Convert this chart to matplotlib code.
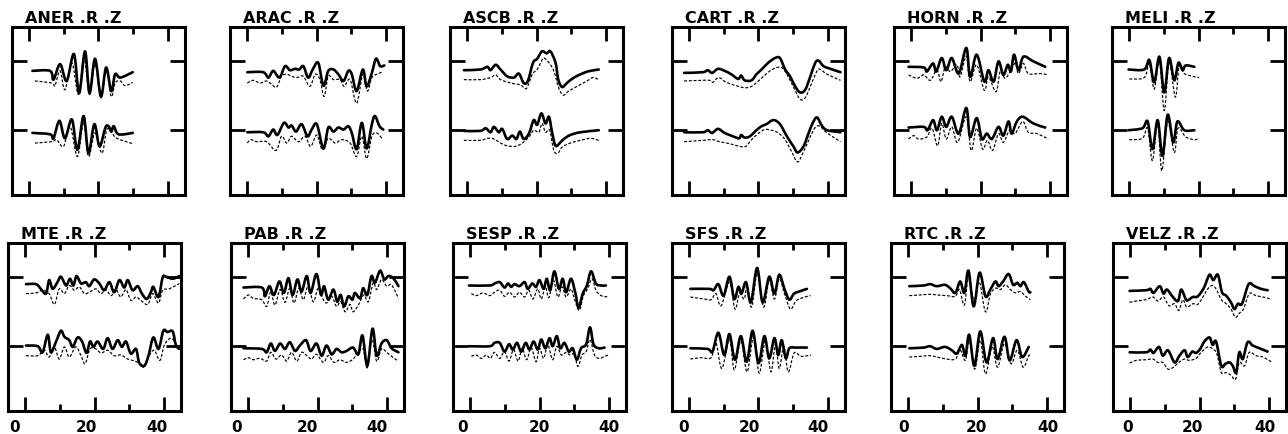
import numpy as np
import matplotlib
matplotlib.use("Agg")
import matplotlib.pyplot as plt
from matplotlib.ticker import FixedLocator
from matplotlib.path import Path
from matplotlib.patches import PathPatch
from matplotlib.transforms import ScaledTranslation

plt.rcParams['font.family'] = ['DejaVu Sans']

# ---------------- data: (time s, amplitude) ----------------
stations = ["ANER", "ARAC", "ASCB", "CART", "HORN", "MELI",
            "MTE", "PAB", "SESP", "SFS", "RTC", "VELZ"]
titles = [s + " .R .Z" for s in stations]
xticks_major = [0, 20, 40]
xticks_minor = [10, 30]
xtick_labels = ["0", "20", "40"]

ANER_up_obs = [(0.9,-15),(6.0,-15),(7.0,-28),(8.9,-5),(10.8,-30),(12.9,10),(14.4,-48),(16.1,14),(17.4,-48),(19.0,3),(20.7,-53),(22.2,-10),(23.7,-45),(24.8,-20),(26.3,-25),(29.9,-17)]
ANER_up_syn = [(1.6,-30),(6.5,-33),(7.4,-37),(8.9,-15),(10.3,-43),(12.3,-3),(14.2,-50),(15.8,5),(17.4,-50),(19.0,-5),(20.7,-55),(22.2,-15),(23.7,-53),(24.8,-33),(26.3,-30),(27.7,-37),(29.9,-32)]
ANER_lo_obs = [(0.9,-4),(6.0,-6),(7.0,-12),(8.7,14),(10.3,-12),(12.3,16),(13.9,-29),(15.7,21),(17.1,-34),(18.8,9),(20.3,-24),(22.0,4),(22.9,6),(23.7,-2),(24.4,6),(25.8,-6),(29.9,-4)]
ANER_lo_syn = [(1.6,-19),(6.5,-17),(7.9,-14),(9.9,-24),(11.8,6),(13.9,-39),(15.7,11),(17.1,-39),(19.0,-4),(21.0,-34),(22.4,1),(23.9,-4),(25.3,-12),(29.9,-20)]

ARAC_up_obs = [(0,-17),(4.6,-17),(6.1,-25),(7.5,-15),(9.3,-25),(10.9,-8),(12.3,-14),(13.8,-12),(15.0,-13),(16.2,-8),(17.6,-25),(18.9,-13),(20.5,-3),(22.0,-37),(23.4,-15),(24.9,-13),(26.3,-20),(27.8,-30),(29.2,-15),(30.2,-20),(31.6,-45),(33.4,-13),(34.5,-38),(36.0,-18),(37.2,3),(38.4,-8),(39.6,-7)]
ARAC_up_syn = [(0,-33),(1.7,-29),(3.7,-33),(5.6,-30),(7.0,-35),(8.5,-39),(9.9,-23),(11.4,-20),(12.8,-23),(14.3,-25),(16.2,-23),(18.1,-38),(19.6,-20),(21.0,-28),(22.2,-53),(23.4,-23),(24.9,-28),(26.8,-28),(28.0,-38),(29.7,-28),(31.6,-63),(33.4,-20),(34.7,-45),(36.0,-25),(37.4,-20),(38.9,-17)]
ARAC_lo_obs = [(0,-3),(4.6,-3),(6.1,-9),(7.5,1),(8.7,-7),(10.6,11),(11.9,4),(12.8,7),(14.1,-2),(15.7,9),(17.4,-9),(18.6,1),(20.1,9),(22.0,-27),(23.4,4),(24.9,-2),(26.3,4),(27.8,1),(29.2,6),(30.2,-4),(31.6,-28),(33.1,11),(34.5,-27),(36.0,9),(36.9,21),(38.2,6),(39.3,1)]
ARAC_lo_syn = [(0,-19),(1.0,-14),(2.7,-17),(5.6,-17),(8.3,-30),(9.9,-9),(11.4,-19),(12.8,-9),(14.8,-17),(16.7,-9),(18.3,-24),(20.1,-7),(21.7,-29),(23.4,-12),(25.4,-19),(27.3,-14),(29.7,-19),(31.6,-39),(33.1,-9),(34.5,-42),(36.0,-9),(37.4,-4),(38.9,-12)]

ASCB_up_obs = [(-1.0,-14),(3.8,-13),(5.8,-9),(6.7,-14),(8.2,-6),(9.6,-13),(11.5,-23),(13.5,-25),(14.9,-19),(16.3,-33),(17.5,-30),(19.0,-3),(20.2,3),(21.6,14),(22.9,11),(24.0,14),(25.5,-3),(26.3,-28),(27.4,-39),(28.8,-33),(30.8,-25),(33.7,-18),(35.6,-15),(38.0,-13)]
ASCB_up_syn = [(-1.0,-28),(3.8,-28),(6.7,-25),(8.2,-21),(9.6,-28),(12.5,-33),(15.4,-36),(17.1,-41),(18.8,-20),(20.2,-13),(21.2,-3),(22.1,4),(23.6,-3),(25.0,-15),(26.4,-40),(27.7,-51),(29.3,-45),(31.7,-38),(34.6,-30),(36.3,-25),(38.0,-28)]
ASCB_lo_obs = [(-1.0,-1),(3.8,-1),(5.3,3),(6.7,-3),(7.7,5),(9.1,-3),(10.1,2),(11.5,-13),(13.0,-8),(14.2,-13),(15.2,-2),(16.3,-13),(17.8,-5),(19.2,15),(20.2,8),(21.4,25),(22.6,10),(23.6,20),(24.5,-3),(25.5,-23),(26.9,-18),(27.9,-13),(29.8,-7),(32.7,-3),(38.0,0)]
ASCB_lo_syn = [(-1.0,-15),(3.8,-15),(5.8,-12),(7.7,-13),(9.6,-19),(11.5,-23),(13.9,-24),(15.9,-19),(17.8,-10),(19.2,0),(20.7,-3),(21.6,10),(22.6,-3),(23.8,0),(25.0,-30),(26.2,-34),(27.4,-25),(29.8,-19),(32.7,-15),(35.6,-12),(38.0,-15)]

CART_up_obs = [(-1.5,-18),(3.9,-17),(5.3,-14),(6.6,-18),(8.3,-12),(10.2,-15),(12.1,-20),(14.1,-27),(15.0,-22),(16.0,-29),(18.0,-29),(19.4,-20),(20.9,-13),(22.8,-3),(24.8,4),(26.2,4),(27.7,-13),(29.1,-23),(30.6,-38),(32.0,-47),(33.5,-43),(35.0,-23),(36.4,-3),(37.4,0),(38.8,-8),(40.8,-12),(43.7,-17)]
CART_up_syn = [(-1.5,-30),(3.9,-29),(5.8,-29),(6.8,-32),(8.5,-25),(10.7,-32),(13.6,-37),(16.0,-40),(18.0,-38),(20.4,-28),(22.8,-17),(24.8,-11),(26.7,-10),(28.2,-20),(30.1,-39),(32.0,-57),(33.5,-55),(35.0,-38),(36.9,-15),(37.9,-13),(39.8,-20),(43.7,-29)]
CART_lo_obs = [(-1.5,-3),(3.9,-3),(5.3,0),(6.6,-4),(8.3,2),(10.2,-4),(12.6,-9),(14.4,-12),(15.0,-7),(16.0,-11),(17.5,-9),(19.4,0),(20.9,6),(22.3,9),(24.3,15),(26.2,9),(28.2,-9),(30.1,-24),(31.3,-33),(33.0,-24),(34.5,-4),(35.7,11),(36.9,19),(38.3,7),(39.8,0),(43.7,-3)]
CART_lo_syn = [(-1.5,-17),(3.9,-15),(6.8,-14),(8.7,-17),(11.7,-20),(14.6,-24),(16.3,-24),(18.0,-14),(19.9,-5),(21.8,1),(23.8,0),(25.7,-4),(27.7,-14),(29.6,-32),(31.3,-47),(33.0,-32),(35.0,-9),(36.4,4),(37.7,6),(39.8,-4),(43.7,-17)]

HORN_up_obs = [(-0.8,-9),(3.6,-10),(4.5,-16),(6.3,-4),(7.2,-16),(8.8,4),(10.1,-14),(11.7,4),(13.7,-19),(15.9,19),(17.0,-24),(18.9,9),(21.1,-31),(22.3,-14),(23.8,-31),(25.2,-1),(26.6,-21),(27.9,-6),(28.8,-16),(29.7,9),(31.0,-14),(32.4,6),(35.3,-1),(38.7,-9)]
HORN_up_syn = [(-0.8,-21),(1.6,-26),(3.6,-21),(5.5,-29),(7.4,-14),(8.6,-31),(9.8,-9),(11.3,-16),(13.2,-6),(14.1,-24),(15.9,7),(17.0,-31),(18.9,-6),(21.1,-44),(22.3,-24),(24.5,-46),(25.7,-16),(27.1,-26),(28.6,-16),(30.0,-4),(31.0,-19),(32.4,-4),(33.8,-19),(37.2,-19),(39.6,-21)]
HORN_lo_obs = [(-0.8,4),(3.6,5),(4.7,0),(6.3,15),(7.4,0),(8.8,20),(10.1,5),(11.7,20),(13.7,-5),(15.9,33),(17.0,-10),(18.9,18),(20.4,-13),(21.8,-5),(23.3,-13),(25.2,5),(26.6,-8),(28.1,13),(29.0,-5),(30.5,13),(32.2,20),(35.3,10),(38.7,4)]
HORN_lo_syn = [(-0.8,-13),(0.7,-8),(2.1,-13),(4.5,-10),(6.0,3),(7.6,-23),(8.8,10),(10.1,-13),(11.7,5),(13.4,-18),(15.9,20),(17.3,-30),(18.9,3),(20.6,-28),(22.0,-15),(23.5,-30),(25.2,-5),(26.6,-18),(28.4,0),(30.0,-5),(32.2,13),(33.8,-3),(36.3,-5),(39.6,-13)]

MELI_up_obs = [(-0.2,-13),(4.3,-13),(5.8,1),(7.2,-32),(8.7,6),(10.1,-47),(11.5,4),(13.0,-29),(14.2,-3),(15.4,-14),(16.3,-7),(18.8,-9)]
MELI_up_syn = [(0,-27),(4.3,-25),(5.8,-4),(7.2,-42),(8.7,1),(10.1,-74),(11.5,-2),(13.3,-54),(14.4,-9),(15.9,-19),(18.3,-23),(20.2,-25)]
MELI_lo_obs = [(-0.2,0),(3.8,3),(5.3,13),(6.7,-28),(8.2,15),(9.6,-38),(11.1,23),(12.7,-18),(13.9,13),(15.9,0),(18.8,0)]
MELI_lo_syn = [(0,-14),(3.8,-12),(5.3,3),(6.7,-45),(8.2,10),(9.4,-60),(11.1,13),(13.0,-33),(14.1,3),(16.3,-10),(18.8,-14),(20.2,-12)]

MTE_up_obs = [(0.2,-11),(3.1,-11),(4.5,-18),(6.0,-25),(6.9,-5),(7.9,-18),(9.3,-8),(10.3,0),(11.8,-13),(12.9,-3),(13.9,-13),(14.8,1),(16.1,-10),(17.5,-8),(18.5,-14),(19.9,-4),(21.4,-10),(22.8,-20),(24.3,-8),(25.7,-23),(27.2,-5),(28.6,-16),(29.6,-5),(31.0,-20),(32.5,-14),(33.7,-25),(35.1,-33),(36.3,-23),(37.0,-15),(38.5,-30),(39.7,-1),(40.7,0),(42.6,-3),(44.5,1)]
MTE_up_syn = [(0.2,-25),(3.1,-24),(5.0,-20),(6.9,-25),(8.4,-41),(9.8,-18),(11.3,-25),(12.7,-13),(14.2,-20),(15.6,-15),(17.1,-25),(18.5,-23),(20.4,-18),(21.9,-25),(23.3,-19),(24.8,-28),(26.2,-19),(27.6,-30),(29.1,-19),(30.5,-35),(32.0,-30),(33.4,-35),(35.4,-41),(36.8,-25),(38.5,-39),(39.7,-20),(41.6,-18),(44.5,-10)]
MTE_lo_obs = [(0.2,1),(3.6,0),(5.0,-9),(6.5,17),(7.4,-9),(8.9,7),(10.3,23),(11.3,14),(12.7,9),(13.7,-1),(15.1,13),(16.4,7),(17.7,-10),(18.7,7),(19.7,-1),(20.9,7),(22.5,-4),(23.8,12),(25.2,-4),(26.7,9),(27.9,-1),(29.1,7),(30.5,-11),(32.0,-4),(32.9,-24),(34.4,-29),(35.6,-14),(37.0,13),(38.5,-4),(39.9,23),(41.1,21),(42.6,22),(43.5,2),(44.5,-4)]
MTE_lo_syn = [(0.2,-14),(3.6,-14),(5.5,-6),(6.9,-16),(8.4,-1),(9.8,-19),(11.3,-1),(12.7,-16),(14.6,-1),(16.1,-14),(17.3,-26),(18.7,-4),(20.4,-4),(21.9,-10),(23.8,-6),(25.7,-14),(27.6,-13),(29.6,-19),(31.0,-21),(32.5,-24),(34.1,-31),(35.8,-14),(37.3,-6),(38.9,-21),(40.2,2),(42.1,12),(43.5,4),(44.5,-6)]

PAB_up_obs = [(-1.4,-16),(3.9,-16),(4.8,-29),(6.1,-14),(7.4,-27),(9.0,-7),(10.3,-24),(11.6,-2),(12.8,-27),(14.2,-4),(15.4,-22),(16.9,1),(18.0,-24),(19.7,4),(21.0,-27),(21.9,-14),(23.1,-34),(24.6,-19),(25.7,-37),(26.7,-27),(27.7,-44),(28.9,-29),(30.1,-34),(30.8,-24),(32.3,-32),(33.2,-17),(34.4,-27),(35.6,1),(36.6,-9),(38.1,9),(39.3,-4),(40.5,1),(41.9,-2),(43.4,-14)]
PAB_up_syn = [(-1.4,-33),(0,-27),(1.4,-32),(3.9,-34),(5.3,-44),(6.5,-22),(7.7,-42),(9.2,-19),(10.6,-38),(12.0,-17),(13.2,-39),(14.6,-17),(15.9,-34),(17.3,-14),(18.8,-37),(20.2,-17),(21.5,-32),(22.6,-39),(24.1,-29),(25.5,-44),(26.7,-37),(28.0,-52),(29.4,-41),(30.3,-52),(31.8,-42),(33.4,-27),(34.7,-37),(36.1,-9),(37.1,-19),(38.5,-4),(40.0,-14),(41.4,-12),(43.4,-32)]
PAB_lo_obs = [(-1.4,-3),(3.9,-4),(5.3,-9),(6.5,4),(7.7,-7),(9.2,4),(10.6,-4),(12.0,6),(13.5,-7),(14.9,1),(16.7,9),(18.0,-7),(19.7,4),(21.2,-14),(22.6,1),(24.1,-12),(25.5,-4),(27.0,-9),(28.4,-7),(30.3,-2),(31.8,-12),(33.0,16),(34.4,-29),(35.9,26),(37.1,-14),(38.5,4),(40.0,9),(41.4,-3),(43.4,-9)]
PAB_lo_syn = [(-1.4,-20),(0,-17),(1.4,-20),(3.4,-18),(5.3,-22),(6.5,-9),(8.0,-19),(9.6,-13),(11.1,-22),(12.5,-9),(14.0,-22),(15.4,-9),(16.9,-14),(18.3,-19),(19.7,-12),(21.7,-24),(23.1,-14),(24.8,-24),(26.5,-20),(28.4,-24),(30.3,-19),(31.8,-9),(33.2,-4),(34.4,-32),(35.7,11),(37.1,-22),(38.5,-4),(40.0,-9),(41.9,-17),(43.4,-22)]

SESP_up_obs = [(-0.4,-13),(5.6,-13),(7.0,-10),(8.5,-8),(9.9,-16),(10.9,-10),(11.8,-15),(12.8,-11),(14.2,-14),(15.7,-8),(16.6,-18),(17.9,-10),(19.0,-15),(20.0,-5),(21.2,-18),(22.1,-3),(23.1,-20),(24.3,8),(25.6,-18),(26.7,-3),(27.7,-23),(29.1,-3),(30.4,-25),(31.3,-46),(32.5,-25),(33.7,-13),(34.9,8),(36.3,-10),(37.8,-13),(39.2,-13)]
SESP_up_syn = [(0.3,-25),(1.7,-28),(3.7,-24),(5.6,-28),(7.0,-23),(8.5,-20),(9.9,-29),(11.3,-23),(12.8,-30),(14.2,-23),(15.7,-30),(16.9,-20),(18.1,-33),(19.5,-18),(20.5,-33),(21.7,-15),(22.7,-31),(24.0,-5),(25.3,-30),(26.5,-15),(27.7,-30),(29.1,-18),(30.1,-33),(31.5,-50),(32.7,-28),(33.9,-18),(35.2,-3),(36.3,-20),(37.8,-28),(39.7,-30)]
SESP_lo_obs = [(-0.4,0),(5.6,0),(7.0,5),(8.5,5),(9.9,-8),(11.2,3),(12.3,-5),(13.5,5),(14.7,-8),(16.0,5),(17.1,-5),(18.3,7),(19.5,-5),(20.5,10),(21.7,-3),(22.9,12),(23.8,0),(25.0,15),(26.0,-3),(27.2,5),(28.5,-8),(29.6,-3),(30.8,-20),(32.0,-3),(33.5,3),(34.6,28),(35.6,3),(37.1,-3),(38.8,-2)]
SESP_lo_syn = [(0.3,-15),(1.7,-13),(3.2,-18),(4.6,-13),(5.8,-18),(7.0,-9),(8.5,-18),(9.9,-8),(11.2,-22),(12.5,-5),(13.8,-22),(15.0,-3),(16.3,-20),(17.6,-2),(19.0,-23),(20.0,-3),(21.2,-18),(22.4,2),(23.8,-20),(25.0,0),(26.3,-13),(27.7,-9),(28.8,-13),(30.1,-12),(31.1,-30),(32.3,-13),(33.5,-8),(34.6,10),(35.9,-13),(37.3,-18),(38.8,-15),(40.0,-13)]

SFS_up_obs = [(0.3,-18),(5.8,-18),(7.0,-20),(8.4,-11),(9.9,-28),(11.6,0),(13.0,-33),(14.2,-15),(15.1,-25),(16.4,-8),(17.8,-38),(19.6,13),(21.2,-38),(23.1,0),(24.6,-25),(26.0,3),(27.5,-18),(28.9,-34),(30.3,-25),(32.3,-21),(34.0,-18)]
SFS_up_syn = [(0.3,-30),(4.3,-33),(6.3,-34),(7.7,-25),(9.2,-43),(11.6,-8),(13.2,-48),(14.5,-25),(15.9,-33),(16.7,-13),(18.0,-45),(19.7,5),(21.5,-45),(23.1,-5),(24.6,-33),(26.0,-3),(27.5,-25),(29.2,-48),(30.8,-36),(32.8,-31),(35.0,-28)]
SFS_lo_obs = [(0.3,-3),(5.3,-4),(6.7,-8),(8.4,20),(10.1,-13),(11.6,18),(13.2,-20),(14.9,15),(16.6,-23),(18.3,23),(20.0,-25),(21.7,15),(23.1,-18),(24.6,12),(25.7,-13),(26.7,9),(27.9,-18),(28.9,-3),(30.8,-2),(34.0,-2)]
SFS_lo_syn = [(0.3,-19),(3.4,-17),(6.3,-17),(7.7,5),(9.4,-33),(11.6,10),(13.0,-35),(14.9,8),(16.7,-38),(18.6,15),(20.2,-40),(22.0,8),(23.6,-38),(24.9,3),(26.0,-33),(27.3,0),(28.6,-38),(30.3,-10),(32.3,-15),(35.2,-13)]

RTC_up_obs = [(0.3,-14),(4.4,-13),(6.3,-11),(8.2,-14),(10.6,-12),(12.1,-17),(13.6,-24),(15.0,-7),(16.2,-24),(17.4,9),(18.9,-44),(20.6,6),(22.3,-29),(23.7,-19),(25.2,-7),(26.1,-14),(27.4,-7),(29.0,4),(30.3,-12),(31.5,-9),(32.4,-14),(33.4,-8),(34.8,-22),(35.3,-23)]
RTC_up_syn = [(0.3,-28),(3.4,-27),(6.3,-26),(8.2,-27),(11.1,-28),(13.6,-29),(14.8,-19),(16.2,-42),(17.4,-2),(19.1,-37),(20.5,-7),(22.3,-52),(23.7,-26),(25.2,-17),(26.6,-19),(28.1,-12),(29.5,-19),(31.0,-24),(32.4,-22),(33.9,-29),(35.3,-34)]
RTC_lo_obs = [(0.3,-3),(4.4,-2),(6.3,0),(8.2,-4),(10.6,-1),(12.6,-6),(14.0,-11),(15.5,2),(16.5,-14),(17.6,17),(19.1,-29),(20.8,22),(22.6,-24),(24.5,12),(25.8,-19),(27.8,14),(29.3,-21),(31.3,9),(32.9,-16),(34.8,-1)]
RTC_lo_syn = [(0.3,-16),(3.4,-15),(6.3,-14),(8.2,-16),(11.1,-19),(13.6,-19),(15.0,-6),(16.5,-21),(17.7,9),(19.2,-34),(20.8,9),(22.3,-41),(24.2,-1),(25.8,-31),(27.8,4),(29.7,-26),(31.5,-6),(33.2,-31),(34.8,-14),(35.3,-15)]

VELZ_up_obs = [(-0.2,-21),(4.6,-20),(5.8,-18),(6.7,-24),(8.5,-14),(9.6,-25),(10.6,-19),(12.3,-30),(13.8,-36),(14.7,-19),(16.0,-33),(16.6,-35),(18.1,-30),(19.2,-30),(20.2,-25),(21.4,-15),(22.9,3),(24.0,-5),(25.3,3),(26.5,-23),(27.7,-28),(29.1,-38),(30.1,-48),(31.1,-40),(32.3,-40),(34.2,-11),(35.9,-14),(37.8,-18),(39.7,-20)]
VELZ_up_syn = [(-0.2,-38),(1.7,-36),(4.6,-34),(6.5,-30),(8.0,-36),(9.6,-30),(11.2,-43),(12.8,-40),(14.0,-50),(15.2,-34),(16.3,-45),(18.1,-40),(19.5,-41),(21.0,-30),(22.4,-18),(23.8,-13),(25.0,-20),(26.3,-34),(27.7,-40),(29.1,-48),(30.4,-60),(31.5,-54),(32.7,-48),(34.4,-25),(36.3,-28),(38.3,-30),(40.7,-33)]
VELZ_lo_obs = [(-0.2,-9),(4.6,-9),(5.8,-5),(6.7,-10),(8.3,-1),(9.4,-14),(10.9,-6),(12.8,-24),(14.2,-14),(15.7,-6),(16.6,-16),(17.9,-8),(19.0,-10),(20.2,-4),(21.4,7),(22.9,13),(23.8,2),(24.8,7),(26.3,-29),(27.5,-26),(28.7,-24),(29.6,-29),(30.6,-39),(31.5,-9),(32.5,-19),(33.9,6),(35.4,1),(37.8,-4),(39.7,-8)]
VELZ_lo_syn = [(-0.2,-25),(1.7,-21),(4.6,-20),(6.5,-19),(8.0,-24),(9.4,-24),(10.9,-34),(12.5,-31),(14.0,-24),(15.7,-19),(17.1,-21),(19.0,-18),(20.5,-9),(22.4,-1),(23.8,-4),(25.0,-11),(26.3,-39),(27.7,-39),(29.1,-43),(30.4,-49),(31.5,-24),(33.0,-29),(34.4,-9),(36.3,-14),(38.3,-16),(40.7,-23)]

traces = {
    "ANER": (ANER_up_obs, ANER_up_syn, ANER_lo_obs, ANER_lo_syn),
    "ARAC": (ARAC_up_obs, ARAC_up_syn, ARAC_lo_obs, ARAC_lo_syn),
    "ASCB": (ASCB_up_obs, ASCB_up_syn, ASCB_lo_obs, ASCB_lo_syn),
    "CART": (CART_up_obs, CART_up_syn, CART_lo_obs, CART_lo_syn),
    "HORN": (HORN_up_obs, HORN_up_syn, HORN_lo_obs, HORN_lo_syn),
    "MELI": (MELI_up_obs, MELI_up_syn, MELI_lo_obs, MELI_lo_syn),
    "MTE": (MTE_up_obs, MTE_up_syn, MTE_lo_obs, MTE_lo_syn),
    "PAB": (PAB_up_obs, PAB_up_syn, PAB_lo_obs, PAB_lo_syn),
    "SESP": (SESP_up_obs, SESP_up_syn, SESP_lo_obs, SESP_lo_syn),
    "SFS": (SFS_up_obs, SFS_up_syn, SFS_lo_obs, SFS_lo_syn),
    "RTC": (RTC_up_obs, RTC_up_syn, RTC_lo_obs, RTC_lo_syn),
    "VELZ": (VELZ_up_obs, VELZ_up_syn, VELZ_lo_obs, VELZ_lo_syn),
}
UPPER_OFFSET = 103
LOWER_OFFSET = 0


def smooth_path(t, a):
    """Cubic Bezier path passing through every read point (Catmull-Rom tangents)."""
    p = np.column_stack([t, a])
    n = len(p)
    verts = [p[0]]
    codes = [Path.MOVETO]
    for i in range(n - 1):
        p0 = p[i - 1] if i > 0 else p[i]
        p1 = p[i]
        p2 = p[i + 1]
        p3 = p[i + 2] if i + 2 < n else p[i + 1]
        c1 = p1 + (p2 - p0) / 6.0
        c2 = p2 - (p3 - p1) / 6.0
        verts += [c1, c2, p2]
        codes += [Path.CURVE4] * 3
    return Path(np.array(verts), codes)


# ---------------- layout ----------------
W, H = 1288, 435
fig = plt.figure(figsize=(W / 100, H / 100), dpi=100)
lefts_top = [12, 230, 450, 672, 894, 1112]
lefts_bot = [8, 231, 453, 672, 891, 1113]
label_shift_px = [[-11, -8, -7], [-12, -10, -10], [-8, 0, 0],
                  [-6, -9, -10], [-5, -1, 1], [-3, -7, -4]]
box_w, box_h = 173, 168
tops = [28, 244]

for i, st in enumerate(stations):
    row = i // 6
    col = i % 6
    left_px = (lefts_top if row == 0 else lefts_bot)[col]
    top_px = tops[row]
    ax = fig.add_axes([left_px / W, (H - top_px - box_h) / H, box_w / W, box_h / H])
    up_obs, up_syn, lo_obs, lo_syn = traces[st]
    for pts, off, solid in [(up_syn, UPPER_OFFSET, False), (up_obs, UPPER_OFFSET, True),
                            (lo_syn, LOWER_OFFSET, False), (lo_obs, LOWER_OFFSET, True)]:
        t = np.array([p[0] for p in pts], dtype=float)
        a = np.array([p[1] for p in pts], dtype=float) + off
        path = smooth_path(t, a)
        if solid:
            patch = PathPatch(path, fill=False, edgecolor='black', lw=1.9,
                              joinstyle='round', capstyle='round', zorder=3)
        else:
            patch = PathPatch(path, fill=False, edgecolor='black', lw=0.85,
                              linestyle=(0, (2.5, 1.5)), zorder=2)
        ax.add_patch(patch)
    ax.set_xlim(-5, 45)
    ax.set_ylim(-96, 153)
    for s in ax.spines.values():
        s.set_linewidth(2.2)
    ax.xaxis.set_major_locator(FixedLocator(xticks_major))
    ax.xaxis.set_minor_locator(FixedLocator(xticks_minor))
    ax.set_yticks([LOWER_OFFSET, UPPER_OFFSET])
    ax.set_yticklabels([])
    ax.tick_params(axis='x', which='major', direction='in', length=10, width=2.0,
                   top=True, bottom=True, pad=6)
    ax.tick_params(axis='x', which='minor', direction='in', length=5, width=2.0,
                   top=True, bottom=True)
    ax.tick_params(axis='y', which='major', direction='in', length=11, width=2.0,
                   left=True, right=True)
    if row == 1:
        labels = ax.set_xticklabels(xtick_labels, fontsize=11, fontweight='bold')
        for lab, dx in zip(labels, label_shift_px[col]):
            lab.set_transform(lab.get_transform() +
                              ScaledTranslation(dx / 100, 0, fig.dpi_scale_trans))
    else:
        ax.set_xticklabels([])
    ax.text(13 / box_w, 1 + 5 / box_h, titles[i], transform=ax.transAxes,
            ha='left', va='baseline', fontsize=11.5, fontweight='bold')

fig.savefig("out.png", dpi=100)
